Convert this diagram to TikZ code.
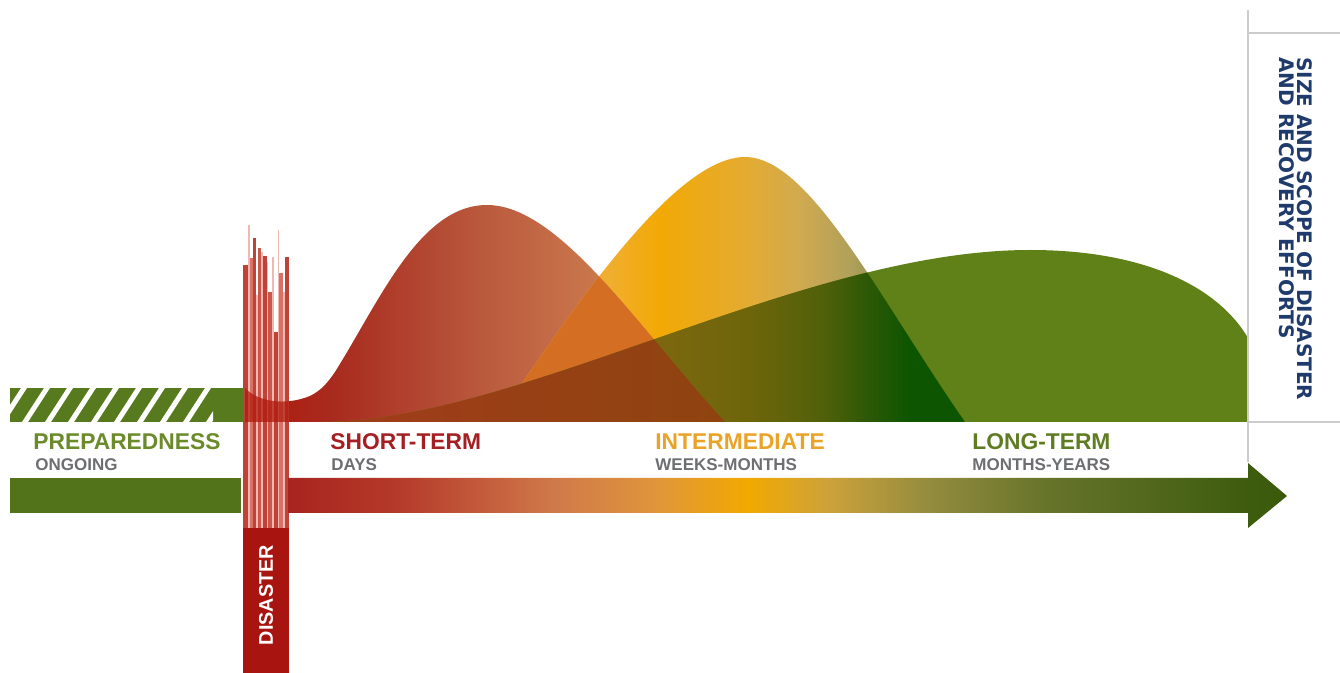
\documentclass[tikz,border=0pt]{standalone}
\usepackage{fontspec}
\setmainfont{Liberation Sans}
\newfontfamily\vfont{DejaVu Sans}

\definecolor{prepgreen}{HTML}{587A1E}
\definecolor{bargreen}{HTML}{53731A}
\definecolor{humpgreen}{HTML}{608018}
\definecolor{overorange}{HTML}{D36E22}
\definecolor{disred}{HTML}{A8140F}
\definecolor{stripred}{HTML}{B01A0C}
\definecolor{colA}{HTML}{BE4238}
\definecolor{colB}{HTML}{CA564C}
\definecolor{colC}{HTML}{D87266}
\definecolor{colD}{HTML}{F0B8B0}
\definecolor{subgray}{HTML}{6D6E72}
\definecolor{navy}{HTML}{1F3B6B}
\definecolor{linegray}{HTML}{CCCCCC}
\definecolor{txtprep}{HTML}{6B8A2A}
\definecolor{txtshort}{HTML}{A41E22}
\definecolor{txtmid}{HTML}{EAA326}
\definecolor{txtlong}{HTML}{5F7C22}
\definecolor{brownA}{HTML}{A53A1C}
\definecolor{brownB}{HTML}{8E4410}
% timeline stops
\definecolor{tlA}{HTML}{A8241E}
\definecolor{tlB}{HTML}{B53A2A}
\definecolor{tlC}{HTML}{D07A4A}
\definecolor{tlD}{HTML}{E0963A}
\definecolor{tlE}{HTML}{F2A900}
\definecolor{tlF}{HTML}{CDA23A}
\definecolor{tlG}{HTML}{948C3E}
\definecolor{tlH}{HTML}{66742A}
\definecolor{tlI}{HTML}{3E5C0E}
\definecolor{tlJ}{HTML}{3A5A0A}
% red hump stops
\definecolor{rhA}{HTML}{B01A0C}
\definecolor{rhB}{HTML}{A82A1E}
\definecolor{rhC}{HTML}{BA5A3E}
\definecolor{rhD}{HTML}{CF8050}
\definecolor{rhE}{HTML}{D89058}
% yellow hump stops
\definecolor{yhA}{HTML}{EEB245}
\definecolor{yhB}{HTML}{F0AE30}
\definecolor{yhC}{HTML}{F2A905}
\definecolor{yhD}{HTML}{E5AB30}
\definecolor{yhE}{HTML}{D0AA50}
\definecolor{yhF}{HTML}{AEA05A}
\definecolor{yhG}{HTML}{929050}
\definecolor{yhH}{HTML}{4A6A20}
% yellow under green stops
\definecolor{ygA}{HTML}{8A5510}
\definecolor{ygB}{HTML}{806810}
\definecolor{ygC}{HTML}{6C650A}
\definecolor{ygD}{HTML}{50600A}
\definecolor{ygE}{HTML}{2A5806}
\definecolor{ygF}{HTML}{0E5500}

\pgfdeclarehorizontalshading{timeline}{100bp}{color(0bp)=(tlA);
  color(25bp)=(tlA); color(30.5bp)=(tlB); color(38.5bp)=(tlC);
  color(43.5bp)=(tlD); color(48bp)=(tlE); color(52bp)=(tlF);
  color(57bp)=(tlG); color(63bp)=(tlH); color(73bp)=(tlI);
  color(75bp)=(tlJ); color(100bp)=(tlJ)}
\pgfdeclarehorizontalshading{redhump}{100bp}{color(0bp)=(rhA);
  color(25bp)=(rhA); color(34bp)=(rhB); color(50bp)=(rhC);
  color(65bp)=(rhD); color(75bp)=(rhE); color(100bp)=(rhE)}
\pgfdeclarehorizontalshading{yellowhump}{100bp}{color(0bp)=(yhA);
  color(25bp)=(yhA); color(37bp)=(yhB); color(42.5bp)=(yhC);
  color(51.5bp)=(yhD); color(57.5bp)=(yhE); color(63bp)=(yhF);
  color(66bp)=(yhG); color(75bp)=(yhH); color(100bp)=(yhH)}
\pgfdeclarehorizontalshading{yellowgreen}{100bp}{color(0bp)=(ygA);
  color(25bp)=(ygA); color(40bp)=(ygB); color(52.5bp)=(ygC);
  color(60bp)=(ygD); color(65bp)=(ygE); color(69bp)=(ygF);
  color(100bp)=(ygF)}

\def\redhump{(245,388) .. controls (258,402) and (285,406) .. (310,396) .. controls (322,390) and (328,382) .. (335,372) .. controls (380,300) and (420,205) .. (487,205) .. controls (560,205) and (640,330) .. (725,422) -- (245,422) -- cycle}
\def\yellowhump{(495,422) .. controls (560,330) and (670,157) .. (745,157) .. controls (810,157) and (880,300) .. (965,422) -- cycle}
\def\greenhump{(320,422) .. controls (520,422) and (800,250) .. (1030,250) .. controls (1150,250) and (1220,290) .. (1248,338) -- (1248,422) -- cycle}

\begin{document}
\begin{tikzpicture}[x=0.5pt,y=-0.5pt,
  lbl/.style={inner sep=0pt,anchor=base west,font=\fontsize{11.4}{13}\selectfont\bfseries},
  sublbl/.style={inner sep=0pt,anchor=base west,text=subgray,font=\fontsize{8.5}{10}\selectfont\bfseries},
  gridline/.style={draw=linegray,line width=1pt}]
\useasboundingbox (0,0) rectangle (1340,673);
% preparedness bars
\fill[prepgreen] (10,388) rectangle (245,422);
\begin{scope}
  \clip (10,388) rectangle (213,422);
  \foreach \x in {-1,22,...,206}
    \fill[white] (\x,422) -- (\x+6,422) -- (\x+28,388) -- (\x+22,388) -- cycle;
\end{scope}
\fill[bargreen] (10,478) rectangle (241,513);
% recovery humps
\shade[shading=redhump] \redhump;
\shade[shading=yellowhump] \yellowhump;
\begin{scope}
  \clip \yellowhump;
  \fill[overorange] \redhump;
\end{scope}
\fill[humpgreen] \greenhump;
\begin{scope}
  \clip \greenhump;
  \shade[shading=yellowgreen] \yellowhump;
  \shade[left color=brownA,right color=brownB] \redhump;
\end{scope}
% disaster column
\foreach \x/\w/\t/\c in {243/5/265/colA, 248/1.5/225/colD, 249.5/3/258/colC, 252.5/3.5/238/colA,
    256/1.5/295/colD, 257.5/3.5/248/colB, 261/1.5/252/colD, 262.5/4/256/colA, 266.5/1.5/262/colD,
    268/4/292/colB, 272/1.5/257/colD, 273.5/4/332/colA, 277.5/1.5/230/colD, 279/4/273/colC,
    283/1.5/292/colD, 284.5/4/257/colA}
  \fill[\c] (\x,\t) rectangle (\x+\w,528);
\begin{scope}
  \clip (243,380) rectangle (288.5,422);
  \fill[stripred,opacity=.75] \redhump;
\end{scope}
\fill[disred] (243,528) rectangle (288.5,673);
\node[rotate=90,text=white,inner sep=0pt,font=\fontsize{9.9}{11}\selectfont\bfseries] (disaster) at (266,595) {DISASTER};
% timeline
\shade[shading=timeline] (288,478) -- (1248,478) -- (1248,463) -- (1287,496) -- (1248,528) -- (1248,513) -- (288,513) -- cycle;
% axis frame
\draw[gridline] (1248,10) -- (1248,462);
\draw[gridline] (1248,33) -- (1340,33);
\draw[gridline] (1248,422) -- (1340,422);
\node[rotate=-90,anchor=north west,align=left,inner sep=0pt,text=navy,font=\vfont\fontsize{10}{9}\selectfont\bfseries] (scope) at (1313,57) {SIZE AND SCOPE OF DISASTER\\AND RECOVERY EFFORTS};
% phase labels
\node[lbl,text=txtprep] (prep) at (33,450) {PREPAREDNESS};
\node[sublbl] (prepsub) at (35,471) {ONGOING};
\node[lbl,text=txtshort] (short) at (330,450) {SHORT-TERM};
\node[sublbl] (shortsub) at (331,471) {DAYS};
\node[lbl,text=txtmid] (mid) at (655,450) {INTERMEDIATE};
\node[sublbl] (midsub) at (655,471) {WEEKS-MONTHS};
\node[lbl,text=txtlong] (long) at (972,450) {LONG-TERM};
\node[sublbl] (longsub) at (972,471) {MONTHS-YEARS};
\end{tikzpicture}
\end{document}
